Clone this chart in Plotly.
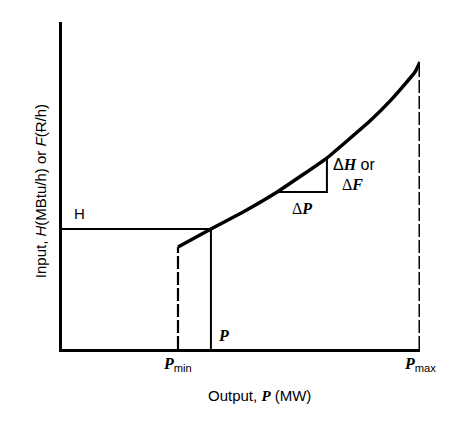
import plotly.graph_objects as go

# Input-output curve (arbitrary units: P and H in % of axis span)
P_curve = [32.4, 41.6, 50.6, 60.1, 74.0, 79.6, 86.0, 91.6, 95.8, 98.6, 100.0]
H_curve = [31.2, 36.7, 41.9, 48.0, 58.4, 63.6, 69.7, 75.8, 81.0, 84.7, 87.8]

P_min = 32.4
P_op = 41.6
P_max = 100.0
H_op = 36.7
tri_idx = (3, 4)  # curve points used for the ΔP / ΔH triangle

FONT = "Liberation Sans"
BLACK = "#000000"

def var(s):
    return f'<span style="font-family:Liberation Serif"><b><i>{s}</i></b></span>'

fig = go.Figure()

def line(x, y, width=2, dash=None, shape="linear", smoothing=None):
    ld = dict(color=BLACK, width=width, shape=shape)
    if dash:
        ld["dash"] = dash
    if smoothing is not None:
        ld["smoothing"] = smoothing
    fig.add_trace(go.Scatter(x=x, y=y, mode="lines", line=ld, hoverinfo="skip",
                             cliponaxis=False))

line(P_curve, H_curve, width=3.5, shape="spline", smoothing=0.3)
line([0, P_op], [H_op, H_op])
line([P_op, P_op], [0, H_op])
line([P_min, P_min], [0, H_curve[0]], width=2.2, dash="13px,3px")
line([P_max, P_max], [0, H_curve[-1]], width=3, dash="13px,3px")
i0, i1 = tri_idx
line([P_curve[i0], P_curve[i1], P_curve[i1]], [H_curve[i0], H_curve[i0], H_curve[i1]])

ann = []
def A(x, y, text, size=15, xanchor="center", yanchor="middle", xref="x", yref="y",
      yshift=0, textangle=0, family=FONT):
    ann.append(dict(x=x, y=y, xref=xref, yref=yref, text=text, showarrow=False,
                    xanchor=xanchor, yanchor=yanchor, yshift=yshift, textangle=textangle,
                    font=dict(family=family, size=size, color=BLACK)))

A(2.8, H_op + 1.5, "H", xanchor="left", yanchor="bottom")
A(P_op + 1.5, 4.2, "<b><i>P</i></b>", size=16, xanchor="left", yanchor="middle",
  family="Liberation Serif")
A(P_min, 0, var("P") + "<sub>min</sub>", size=16, yshift=-15)
A(P_max, 0, var("P") + "<sub>max</sub>", size=16, yshift=-15)
A((P_curve[i0] + P_curve[i1]) / 2, H_curve[i0], "Δ<b><i>P</i></b>", size=16, yshift=-16,
  family="Liberation Serif")
A(P_curve[i1] + 1.0, H_curve[i1] - 2.0, "Δ" + var("H") + " or", size=16, xanchor="left")
A(P_curve[i1] + 3.6, H_curve[i1] - 8.0, "Δ<b><i>F</i></b>", size=16, xanchor="left",
  family="Liberation Serif")
# axis titles
A(0.553, -0.141, "Output, " + var("P") + " (MW)", size=15, xref="paper", yref="paper")
A(-0.061, 0.483, "Input, <i>H</i>(MBtu/h) or <i>F</i>(Ɍ/h)", size=15,
  xref="paper", yref="paper", textangle=-90, family="Liberation Sans, DejaVu Sans")

fig.update_layout(
    width=474, height=422,
    margin=dict(l=54, r=62, t=14, b=81, autoexpand=False),
    paper_bgcolor="white", plot_bgcolor="white",
    showlegend=False,
    annotations=ann,
    xaxis=dict(range=[0, 100], showgrid=False, zeroline=False, showticklabels=False,
               ticks="", showline=True, linecolor=BLACK, linewidth=2.5, automargin=False),
    yaxis=dict(range=[0, 100], showgrid=False, zeroline=False, showticklabels=False,
               ticks="", showline=True, linecolor=BLACK, linewidth=2.5, automargin=False),
)

fig.write_html("out.html")
